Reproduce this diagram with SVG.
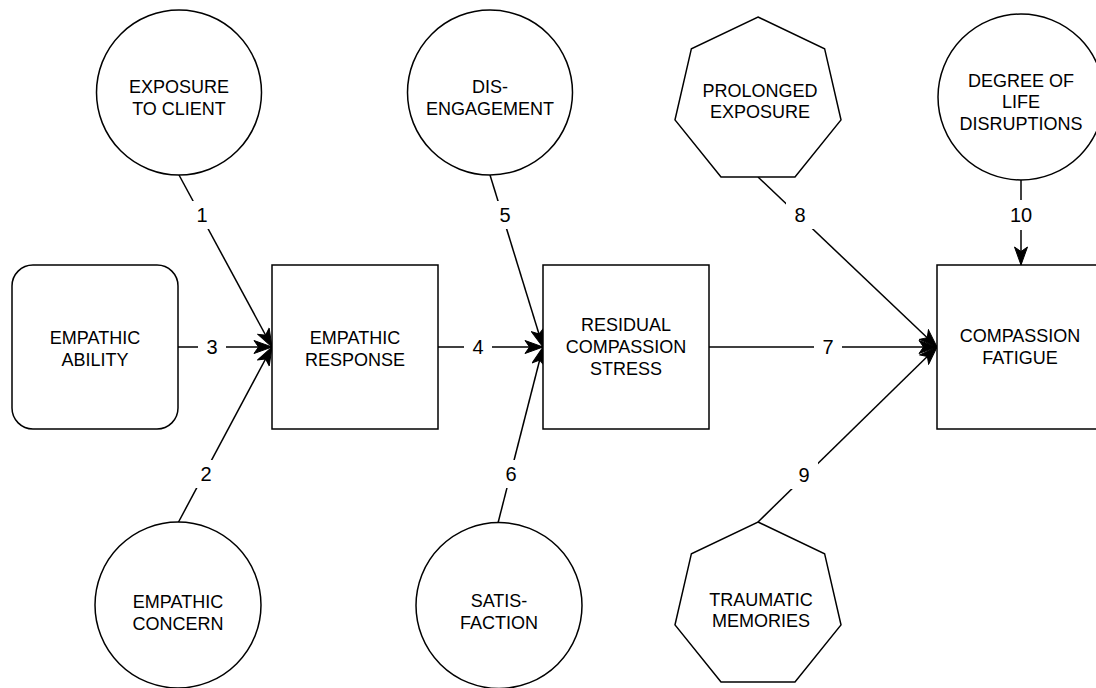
<svg xmlns="http://www.w3.org/2000/svg" width="1096" height="688" viewBox="0 0 1096 688">
  <style>
    .shape { fill: #ffffff; stroke: #000000; stroke-width: 1.5; }
    .label { font-family: "Liberation Sans", Arial, sans-serif; font-size: 18px; fill: #000000; text-anchor: middle; }
    .tag { font-family: "Liberation Sans", Arial, sans-serif; font-size: 20px; fill: #000000; text-anchor: middle; }
    .edge { stroke: #000000; stroke-width: 1.5; fill: none; marker-end: url(#arrow); }
    .tag-bg { fill: #ffffff; stroke: none; }
  </style>
  <defs>
    <marker id="arrow" markerUnits="userSpaceOnUse" viewBox="0 0 20 14" markerWidth="20" markerHeight="14" refX="19" refY="7" orient="auto">
      <path d="M19,7 L1,0.5 L5.5,7 L1,13.5 Z" fill="#000000" stroke="#000000" stroke-width="1" stroke-linejoin="miter"/>
    </marker>
  </defs>

  <rect width="1096" height="688" fill="#ffffff"/>

  <!-- connectors with their numbered tags -->
  <g id="connectors">
    <line class="edge" x1="179" y1="175" x2="272" y2="347"/>
    <line class="edge" x1="178" y1="523" x2="272" y2="347"/>
    <line class="edge" x1="178" y1="347" x2="272" y2="347"/>
    <line class="edge" x1="438" y1="347" x2="543" y2="347"/>
    <line class="edge" x1="490" y1="175" x2="543" y2="347"/>
    <line class="edge" x1="498" y1="523" x2="543" y2="347"/>
    <line class="edge" x1="709" y1="347" x2="937" y2="347"/>
    <line class="edge" x1="758" y1="177" x2="937" y2="347"/>
    <line class="edge" x1="758" y1="522" x2="937" y2="347"/>
    <line class="edge" x1="1021" y1="180" x2="1021" y2="265"/>

    <rect class="tag-bg" x="188" y="201" width="28" height="28"/>
    <text class="tag" x="202" y="222">1</text>
    <rect class="tag-bg" x="192" y="460" width="28" height="28"/>
    <text class="tag" x="206" y="481">2</text>
    <rect class="tag-bg" x="198" y="333" width="28" height="28"/>
    <text class="tag" x="212" y="354">3</text>
    <rect class="tag-bg" x="464" y="333" width="28" height="28"/>
    <text class="tag" x="478" y="354">4</text>
    <rect class="tag-bg" x="491" y="201" width="28" height="28"/>
    <text class="tag" x="505" y="222">5</text>
    <rect class="tag-bg" x="497" y="460" width="28" height="28"/>
    <text class="tag" x="511" y="481">6</text>
    <rect class="tag-bg" x="814" y="333" width="28" height="28"/>
    <text class="tag" x="828" y="354">7</text>
    <rect class="tag-bg" x="786" y="201" width="28" height="28"/>
    <text class="tag" x="800" y="222">8</text>
    <rect class="tag-bg" x="790" y="461" width="28" height="28"/>
    <text class="tag" x="804" y="482">9</text>
    <rect class="tag-bg" x="1003" y="200" width="36" height="30"/>
    <text class="tag" x="1021" y="222">10</text>
  </g>

  <!-- top row -->
  <g id="exposure-to-client">
    <circle class="shape" cx="179" cy="92.5" r="82.5"/>
    <text class="label" x="179" y="93">EXPOSURE</text>
    <text class="label" x="179" y="115">TO CLIENT</text>
  </g>
  <g id="disengagement">
    <circle class="shape" cx="490" cy="92.5" r="82.5"/>
    <text class="label" x="490" y="93">DIS-</text>
    <text class="label" x="490" y="115">ENGAGEMENT</text>
  </g>
  <g id="prolonged-exposure">
    <polygon class="shape" points="758,17 824.6,48.7 841,119.9 795,177 721,177 675,119.9 691.4,48.7"/>
    <text class="label" x="760" y="97">PROLONGED</text>
    <text class="label" x="760" y="118">EXPOSURE</text>
  </g>
  <g id="life-disruptions">
    <circle class="shape" cx="1021" cy="97" r="83"/>
    <text class="label" x="1021" y="87">DEGREE OF</text>
    <text class="label" x="1021" y="108">LIFE</text>
    <text class="label" x="1021" y="130">DISRUPTIONS</text>
  </g>

  <!-- middle row -->
  <g id="empathic-ability">
    <rect class="shape" x="12" y="265" width="166" height="164" rx="21" ry="21"/>
    <text class="label" x="95" y="344">EMPATHIC</text>
    <text class="label" x="95" y="366">ABILITY</text>
  </g>
  <g id="empathic-response">
    <rect class="shape" x="272" y="265" width="166" height="164"/>
    <text class="label" x="355" y="344">EMPATHIC</text>
    <text class="label" x="355" y="366">RESPONSE</text>
  </g>
  <g id="residual-stress">
    <rect class="shape" x="543" y="265" width="166" height="164"/>
    <text class="label" x="626" y="331">RESIDUAL</text>
    <text class="label" x="626" y="353">COMPASSION</text>
    <text class="label" x="626" y="375">STRESS</text>
  </g>
  <g id="compassion-fatigue">
    <rect class="shape" x="937" y="265" width="166" height="164"/>
    <text class="label" x="1020" y="342">COMPASSION</text>
    <text class="label" x="1020" y="364">FATIGUE</text>
  </g>

  <!-- bottom row -->
  <g id="empathic-concern">
    <circle class="shape" cx="178" cy="605" r="83"/>
    <text class="label" x="178" y="608">EMPATHIC</text>
    <text class="label" x="178" y="630">CONCERN</text>
  </g>
  <g id="satisfaction">
    <circle class="shape" cx="499" cy="605.5" r="83"/>
    <text class="label" x="499" y="607">SATIS-</text>
    <text class="label" x="499" y="629">FACTION</text>
  </g>
  <g id="traumatic-memories">
    <polygon class="shape" points="758,522 824.6,553.7 841,624.9 795,682 721,682 675,624.9 691.4,553.7"/>
    <text class="label" x="761" y="606">TRAUMATIC</text>
    <text class="label" x="761" y="627">MEMORIES</text>
  </g>
</svg>
